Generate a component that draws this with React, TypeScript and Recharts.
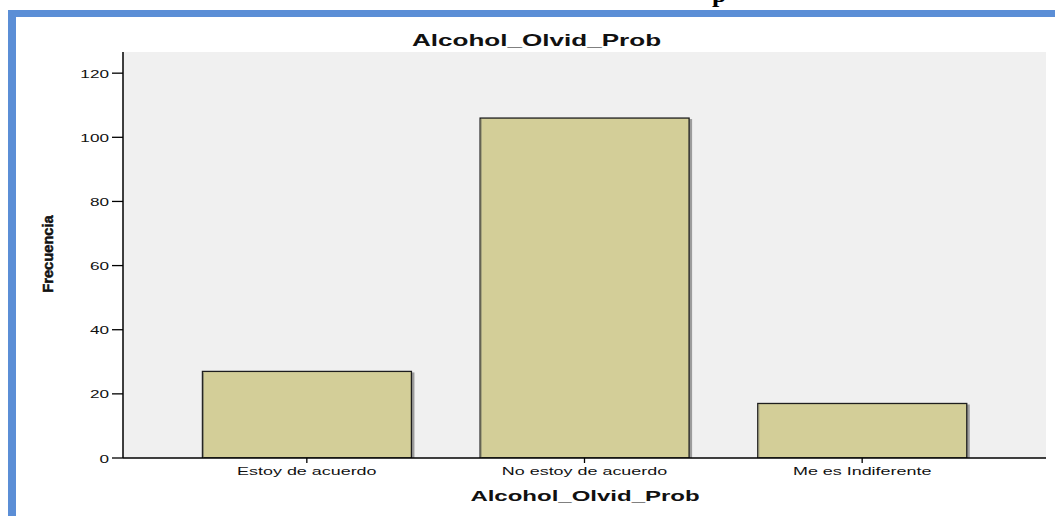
import React from 'react';
import { BarChart, Bar, XAxis, YAxis, CartesianGrid } from 'recharts';

const categories = ['Estoy de acuerdo', 'No estoy de acuerdo', 'Me es Indiferente'];
const frecuencia = [27, 106, 17];
const yTicks = [0, 20, 40, 60, 80, 100, 120];
const chartTitle = 'Alcohol_Olvid_Prob';
const xTitle = 'Alcohol_Olvid_Prob';
const yTitle = 'Frecuencia';

const data = categories.map((c, i) => ({ categoria: c, frecuencia: frecuencia[i] }));

const FONT = '"Liberation Sans", Arial, sans-serif';
const SX = 1.63;

const XTick = (props: any) => {
  const { x, y, payload } = props;
  return (
    <g transform={`translate(${x},${y})`}>
      <text transform={`scale(${SX},1)`} textAnchor="middle" dy={9.5} fontSize={11} fontFamily={FONT} fill="#111">
        {payload.value}
      </text>
    </g>
  );
};

const YTick = (props: any) => {
  const { x, y, payload } = props;
  return (
    <g transform={`translate(${x},${y})`}>
      <text transform={`scale(1.56,1)`} textAnchor="end" dy={4.5} fontSize={11} fontFamily={FONT} fill="#111">
        {payload.value}
      </text>
    </g>
  );
};

const BarShape = (props: any) => {
  const { x, y, width, height } = props;
  if (!height || height <= 0) return null;
  return (
    <g>
      <rect x={x + width} y={y + 1} width={3} height={height - 1} fill="#9c9c9c" />
      <rect x={x} y={y} width={width} height={height} fill="#d3ce98" stroke="#1e1e1e" strokeWidth={1.3} />
      <line x1={x + 1} y1={y + 1} x2={x + 1} y2={y + height} stroke="#8a8a70" strokeWidth={1} />
    </g>
  );
};

export default function App() {
  return (
    <div style={{ position: 'absolute', left: 0, top: 0, width: 1055, height: 516, overflow: 'hidden', background: '#fff' }}>
      <div
        style={{
          position: 'absolute',
          left: 8,
          top: 10,
          width: 1047,
          height: 506,
          borderLeft: '8px solid #5b8ed6',
          borderTop: '7px solid #5b8ed6',
          boxSizing: 'border-box',
          background: '#fff',
        }}
      />
      <div style={{ position: 'absolute', left: 0, top: 0 }}>
        <BarChart
          width={1055}
          height={516}
          data={data}
          margin={{ top: 52, right: 9, bottom: 0, left: 0 }}
          barCategoryGap="12.4%"
        >
          <CartesianGrid fill="#f0f0f0" horizontal={false} vertical={false} xAxisId="main" yAxisId="main" />
          <XAxis
            xAxisId="top"
            orientation="top"
            dataKey="categoria"
            height={0}
            tick={false}
            tickLine={false}
            axisLine={{ stroke: '#7a7a7a', strokeWidth: 1.5 }}
            padding={{ left: 45, right: 45 }}
          />
          <YAxis
            yAxisId="right"
            orientation="right"
            width={0}
            tick={false}
            tickLine={false}
            domain={[0, 126.6]}
            axisLine={{ stroke: '#7a7a7a', strokeWidth: 1.5 }}
          />
          <XAxis
            xAxisId="main"
            dataKey="categoria"
            height={58}
            tick={<XTick />}
            tickSize={5}
            tickMargin={2}
            tickLine={{ stroke: '#000', strokeWidth: 1.3 }}
            axisLine={{ stroke: '#000', strokeWidth: 1.5 }}
            padding={{ left: 45, right: 45 }}
            interval={0}
          />
          <YAxis
            yAxisId="main"
            width={123}
            domain={[0, 126.6]}
            ticks={yTicks}
            tick={<YTick />}
            tickSize={11}
            tickMargin={3}
            tickLine={{ stroke: '#000', strokeWidth: 1.3 }}
            axisLine={{ stroke: '#000', strokeWidth: 1.5 }}
            allowDataOverflow
          />
          <Bar
            xAxisId="main"
            yAxisId="main"
            dataKey="frecuencia"
            shape={<BarShape />}
            isAnimationActive={false}
          />
        </BarChart>
      </div>
      <svg width={1055} height={516} style={{ position: 'absolute', left: 0, top: 0, pointerEvents: 'none' }}>
        <text x={712} y={2} fontSize={26} fontWeight="bold" fontFamily='"Liberation Serif", "Times New Roman", serif' fill="#000">
          p
        </text>
        <text
          transform={`translate(536.5,45.5) scale(${SX},1)`}
          textAnchor="middle"
          fontSize={16}
          fontWeight="bold"
          fontFamily={FONT}
          fill="#111"
        >
          {chartTitle}
        </text>
        <text
          transform={`translate(585,500.8) scale(1.6,1)`}
          textAnchor="middle"
          fontSize={15}
          fontWeight="bold"
          fontFamily={FONT}
          fill="#111"
        >
          {xTitle}
        </text>
        <text
          transform="translate(52.7,254) rotate(-90)"
          textAnchor="middle"
          fontSize={14.7}
          fontWeight="bold"
          fontFamily={FONT}
          fill="#111"
          stroke="#111"
          strokeWidth={0.5}
        >
          {yTitle}
        </text>
      </svg>
    </div>
  );
}
